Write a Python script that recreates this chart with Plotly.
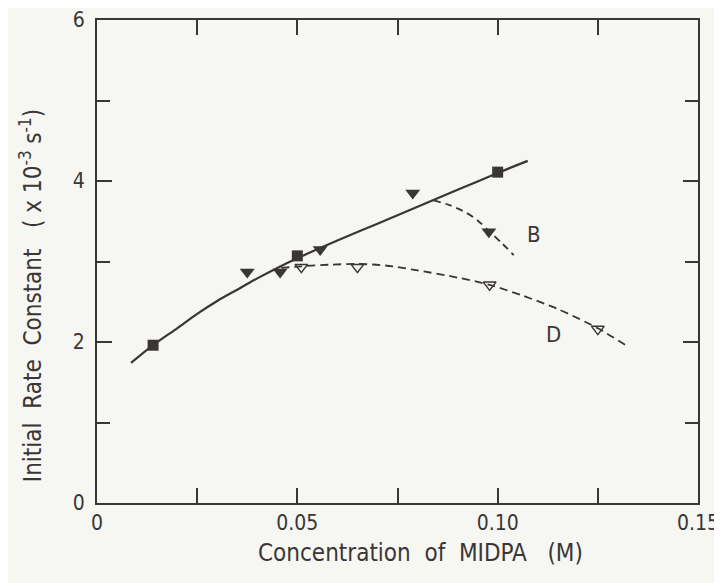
import plotly.graph_objects as go

# Data points
sq_x = [0.014, 0.050, 0.100]
sq_y = [1.96, 3.07, 4.11]

ftri_x = [0.0375, 0.0457, 0.0557, 0.0788, 0.0978]
ftri_y = [2.87, 2.87, 3.15, 3.85, 3.37]

otri_x = [0.051, 0.065, 0.098, 0.125]
otri_y = [2.93, 2.93, 2.71, 2.16]

# Curves
solid_x = [0.0085, 0.014, 0.020, 0.025, 0.030, 0.035, 0.040, 0.045, 0.050, 0.060, 0.070, 0.080, 0.090, 0.100, 0.1075]
solid_y = [1.74, 1.96, 2.17, 2.35, 2.51, 2.65, 2.79, 2.92, 3.04, 3.26, 3.47, 3.68, 3.89, 4.10, 4.25]

b_x = [0.084, 0.088, 0.092, 0.095, 0.0978, 0.101, 0.104]
b_y = [3.76, 3.70, 3.61, 3.51, 3.38, 3.23, 3.08]

d_x = [0.046, 0.051, 0.058, 0.065, 0.072, 0.080, 0.090, 0.098, 0.106, 0.115, 0.125, 0.132]
d_y = [2.92, 2.94, 2.96, 2.97, 2.95, 2.89, 2.80, 2.71, 2.58, 2.41, 2.17, 1.96]

x_tickvals = [0, 0.05, 0.10, 0.15]
x_ticktext = ["0", "0.05", "0.10", "0.15"]
y_tickvals = [0, 2, 4, 6]
y_ticktext = ["0", "2", "4", "6"]

INK = "#3a3636"
FONT = "DejaVu Sans Condensed, Liberation Sans Narrow, sans-serif"

fig = go.Figure()
fig.add_trace(go.Scatter(x=solid_x, y=solid_y, mode="lines",
                         line=dict(color=INK, width=2.2, shape="spline", smoothing=0.8), showlegend=False))
fig.add_trace(go.Scatter(x=b_x, y=b_y, mode="lines",
                         line=dict(color=INK, width=1.8, dash="7px,5px", shape="spline", smoothing=0.8),
                         showlegend=False))
fig.add_trace(go.Scatter(x=d_x, y=d_y, mode="lines",
                         line=dict(color=INK, width=1.8, dash="8px,5px", shape="spline", smoothing=0.8),
                         showlegend=False))
fig.add_trace(go.Scatter(x=sq_x, y=sq_y, mode="markers",
                         marker=dict(symbol="square", size=11, color=INK), showlegend=False))
fig.add_trace(go.Scatter(x=ftri_x, y=ftri_y, mode="markers",
                         marker=dict(symbol="triangle-down", size=13, color=INK), showlegend=False))
fig.add_trace(go.Scatter(x=otri_x, y=otri_y, mode="markers",
                         marker=dict(symbol="triangle-down-open", size=11, color=INK,
                                     line=dict(width=1.5, color=INK)), showlegend=False))

axis_common = dict(showgrid=False, zeroline=False, showline=True, linecolor=INK, linewidth=2,
                   mirror="ticks", ticks="inside", ticklen=15, tickwidth=2, tickcolor=INK,
                   automargin=False, ticklabeloverflow="allow",
                   tickfont=dict(family=FONT, size=21, color=INK))

fig.update_xaxes(range=[0, 0.15], tickvals=x_tickvals, ticktext=x_ticktext,
                 minor=dict(ticks="inside", ticklen=15, tickwidth=2, tickcolor=INK,
                            tickvals=[0.025, 0.075, 0.125], showgrid=False),
                 **axis_common)
fig.update_yaxes(range=[0, 6], tickvals=y_tickvals, ticktext=y_ticktext, ticklabelstandoff=6,
                 minor=dict(ticks="inside", ticklen=13, tickwidth=2, tickcolor=INK,
                            tickvals=[1, 3, 5], showgrid=False),
                 **axis_common)

lab_font = dict(family=FONT, size=22, color=INK)
fig.add_annotation(x=0.109, y=3.33, text="B", showarrow=False, font=lab_font,
                   xanchor="center", yanchor="middle")
fig.add_annotation(x=0.114, y=2.09, text="D", showarrow=False, font=lab_font,
                   xanchor="center", yanchor="middle")

title_font = dict(family=FONT, size=24, color=INK)
fig.add_annotation(xref="paper", yref="paper", x=0.539, y=-0.07, xanchor="center", yanchor="top",
                   text="Concentration  of  MIDPA   (M)", showarrow=False, font=title_font)
fig.add_annotation(xref="paper", yref="paper", x=-0.11, y=0.43, xanchor="center", yanchor="middle",
                   text="Initial  Rate  Constant   ( x 10<sup>-3</sup> s<sup>-1</sup>)", textangle=-90,
                   showarrow=False, font=title_font)

# page body adds an 8px margin, so the figure is 8px smaller and the margins shifted
fig.update_layout(width=714, height=575,
                  margin=dict(l=89, r=24, t=12, b=80, autoexpand=False),
                  paper_bgcolor="#f6f6f3", plot_bgcolor="#f6f6f3")

fig.write_html("out.html")
